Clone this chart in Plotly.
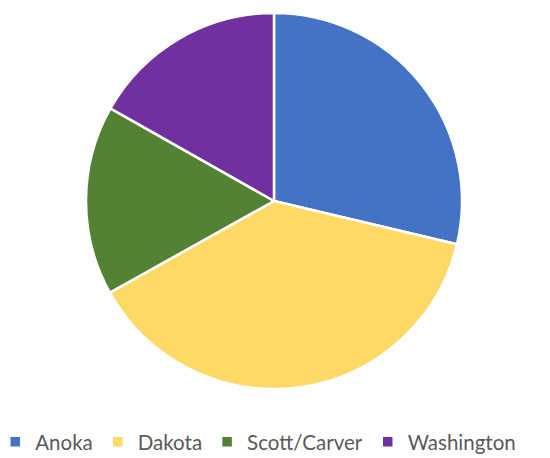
import plotly.graph_objects as go

labels = ["Anoka", "Dakota", "Scott/Carver", "Washington"]
values = [28.7, 38.2, 16.3, 16.8]
colors = ["#4472C4", "#FFD966", "#548235", "#7030A0"]

W, H = 550, 458
cx, cy, r = 266, 193, 188

fig = go.Figure(go.Pie(
    labels=labels, values=values, sort=False, direction="clockwise", rotation=0,
    marker=dict(colors=colors, line=dict(color="white", width=2.5)),
    textinfo="none", hoverinfo="label+percent",
    domain=dict(x=[(cx - r) / W, (cx + r) / W], y=[1 - (cy + r) / H, 1 - (cy - r) / H]),
))
fig.update_layout(
    width=W, height=H, margin=dict(l=0, r=0, t=0, b=0, pad=0, autoexpand=False),
    paper_bgcolor="white", plot_bgcolor="white",
    showlegend=True,
    legend=dict(orientation="h", x=0.455, xanchor="center", y=1 - 434 / H, yanchor="middle",
                font=dict(family="Lato", size=20.5, color="#595959"), traceorder="normal"),
)
fig.write_html("out.html")
